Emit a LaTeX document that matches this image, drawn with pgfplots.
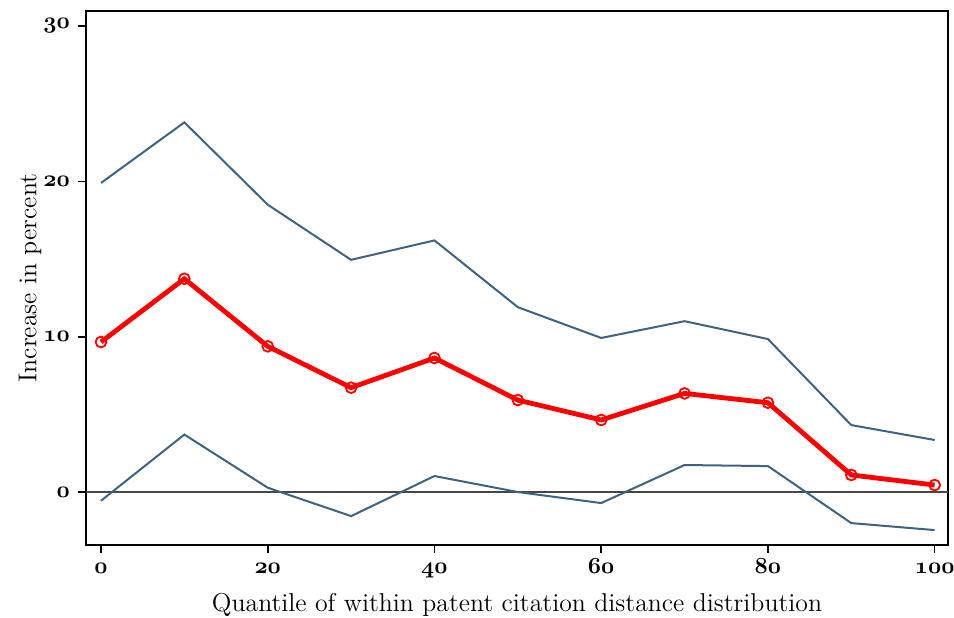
\RequirePackage{fix-cm}
\documentclass[border=0pt]{standalone}
\usepackage{pgfplots}
\pgfplotsset{compat=1.18}
\definecolor{ciblue}{RGB}{62,99,128}
\definecolor{zerogray}{RGB}{70,70,70}
% old-style figures from the bold math italic font
\newcommand{\osn}[1]{{\usefont{OML}{cmm}{b}{it}#1}}

\pgfplotstableread{
q   est    lo     hi
0   9.66  -0.56  19.90
10  13.73  3.70  23.80
20  9.38   0.28  18.50
30  6.72  -1.55  14.95
40  8.63   1.03  16.20
50  5.92   0.00  11.90
60  4.64  -0.71   9.92
70  6.35   1.74  11.00
80  5.75   1.67   9.85
90  1.10  -2.00   4.31
100 0.45  -2.45   3.35
}\datatable

\begin{document}
\begin{tikzpicture}
\begin{axis}[
  name=main,
  scale only axis,
  width=431pt, height=267pt,
  xmin=-1.8, xmax=101.6,
  ymin=-3.41, ymax=30.97,
  xtick={0,20,40,60,80,100},
  xticklabels={\osn{0},\osn{20},\osn{40},\osn{60},\osn{80},\osn{100}},
  ytick={0,10,20,30},
  yticklabels={\osn{0},\osn{10},\osn{20},\osn{30}},
  tick align=outside,
  tick pos=left,
  major tick length=4pt,
  tick style={black, line width=0.8pt},
  axis line style={black, line width=0.9pt},
  ticklabel style={font=\fontsize{11.5}{14}\selectfont},
  xticklabel style={anchor=base, yshift=-10pt},
  yticklabel style={xshift=-0.5pt},
  label style={font=\fontsize{12.9}{15}\selectfont},
  xlabel={Quantile of within patent citation distance distribution},
  ylabel={Increase in percent},
  xlabel style={at={([yshift=-33pt]axis description cs:0.5,0)}, anchor=base},
  ylabel style={at={([xshift=-28pt]axis description cs:0,0.5)}, anchor=center},
  clip=false,
]
\addplot[zerogray, line width=0.9pt, forget plot] coordinates {(-1.8,0) (101.6,0)};
\addplot[ciblue, line width=1pt] table[x=q, y=hi] {\datatable};
\addplot[ciblue, line width=1pt] table[x=q, y=lo] {\datatable};
\addplot[red, line width=2.4pt, mark=o, mark size=2.7pt,
  mark options={line width=0.9pt, draw=red, fill=none}] table[x=q, y=est] {\datatable};
\end{axis}
\pgfresetboundingbox
\path ([shift={(-43pt,-36pt)}]main.south west) rectangle ([shift={(3pt,5.5pt)}]main.north east);
\end{tikzpicture}
\end{document}
